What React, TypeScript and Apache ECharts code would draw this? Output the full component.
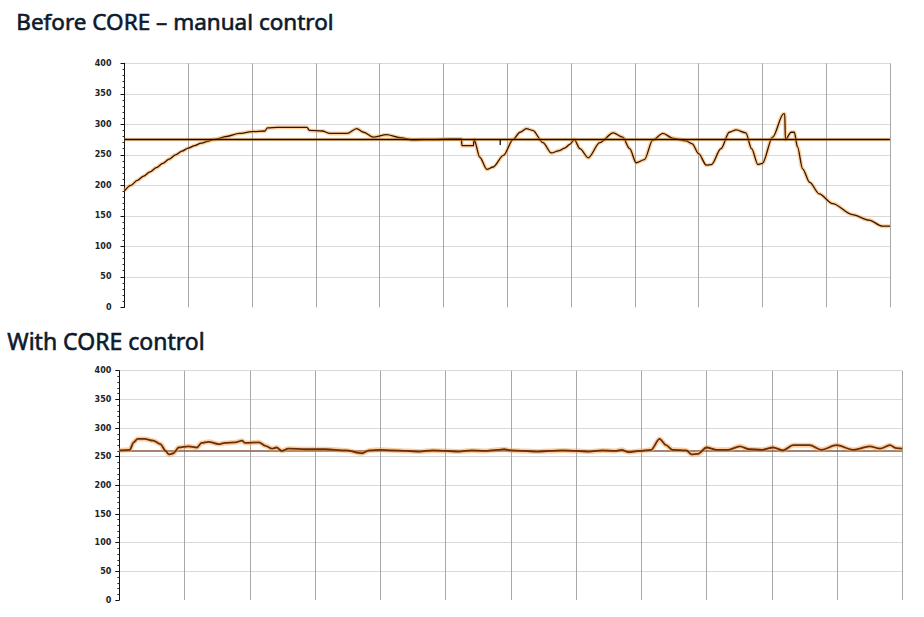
import { useEffect, useRef } from 'react'
import * as echarts from 'echarts'

// ── data (x = 0..120 across 12 grid cells) ──
const beforeCore: [number, number][] = [
  [0, 191], [1, 200], [2, 208], [3, 215], [4, 222], [5, 229], [6, 236], [7, 243],
  [8, 250], [9, 256], [10, 261], [11, 265], [12, 269], [13, 272], [14, 275], [16, 280],
  [18, 285], [20, 288], [22, 289], [22.4, 294], [24, 295], [26, 295], [28.6, 295],
  [29, 290], [31, 289], [32.2, 285], [34.9, 285], [36.4, 293], [37.5, 287], [39, 279],
  [41.1, 283], [43.2, 278], [45.3, 274], [47, 275], [48.9, 275], [51, 276], [52.8, 276],
  [52.9, 265], [54.7, 265], [54.8, 275], [55.7, 246], [56.8, 226], [57.8, 230],
  [59.4, 249], [60.9, 275], [62, 287], [63, 293], [64, 290], [65.6, 270], [66.9, 253],
  [68.2, 257], [69, 261], [69.8, 267], [70.5, 275], [71.4, 260], [72.7, 245], [74.5, 270],
  [76.6, 286], [78.1, 279], [79.2, 260], [80.2, 237], [81.5, 242], [82.8, 274], [84.4, 285],
  [86, 277], [88, 273], [89, 268], [90, 252], [91.2, 233], [92, 234], [93.5, 260],
  [94.8, 287], [95.9, 291], [97.4, 286], [98.3, 260], [99.3, 234], [100, 236],
  [101.6, 279], [103.3, 317], [103.5, 317], [103.6, 275], [104.5, 287], [105, 287],
  [105.5, 263], [106.3, 227], [107.4, 205], [108.9, 186], [111, 170], [114.1, 152],
  [116.7, 143], [118.8, 133], [120, 133],
]
const beforeGlitch: [number, number][] = [[58.9, 275], [58.9, 266]]
const beforeSetpoint = 275

const withCore: [number, number][] = [
  [0, 261], [1.6, 262], [2.2, 275], [2.8, 281], [3.9, 281], [5.2, 278], [6.3, 272],
  [7.1, 260], [7.6, 254], [8.3, 256], [9.1, 266], [10.6, 268], [11.9, 266], [12.6, 274],
  [13.7, 276], [15.2, 272], [16.2, 274], [17.8, 275], [18.8, 278], [19.3, 274], [21.4, 275],
  [22.4, 269], [23.4, 264], [24.1, 266], [24.9, 260], [25.9, 264], [28.5, 263], [31.6, 263],
  [34.7, 261], [37.2, 256], [38.3, 261], [40, 262], [42, 261], [44, 260], [46, 259],
  [48, 261], [50, 260], [52, 259], [54, 261], [56, 260], [58, 262], [59, 263], [60, 261],
  [62, 260], [64, 259], [66, 260], [68, 261], [70, 260], [72, 259], [74, 261], [76, 260],
  [77, 262], [78, 258], [79.7, 260], [81.5, 262], [82.8, 281], [83.8, 270], [84.8, 262],
  [86.9, 261], [87.7, 254], [88.7, 255], [90, 266], [91.5, 262], [93.3, 262], [95.1, 268],
  [96.6, 263], [98.5, 262], [100.2, 266], [101.7, 261], [103.3, 270], [105.8, 270],
  [107.6, 262], [109.9, 270], [112.5, 262], [115, 268], [116.6, 264], [118.1, 270],
  [119.1, 265], [120, 264],
]
const withSetpoint = 260

const titles = ['Before CORE – manual control', 'With CORE control']

function yAxisFor(gridIndex: number): any {
  return {
    gridIndex,
    type: 'value',
    min: 0,
    max: 400,
    interval: 50,
    offset: gridIndex === 0 ? 5 : 0,
    axisLine: { show: true, lineStyle: { color: '#111', width: 1 } },
    axisTick: { show: true, length: 4, lineStyle: { color: '#111' } },
    minorTick: { show: true, splitNumber: 5, length: 2, lineStyle: { color: '#333' } },
    axisLabel: {
      color: '#222',
      fontSize: 8,
      fontWeight: 'bold',
      fontFamily: 'DejaVu Sans',
      margin: 8,
    },
    splitLine: { showMinLine: false, lineStyle: { color: '#d9d9d9', width: 1 } },
  }
}

function xAxisFor(gridIndex: number): any {
  return {
    gridIndex,
    type: 'value',
    min: 0,
    max: 120,
    interval: 10,
    axisLine: { show: false },
    axisTick: { show: false },
    axisLabel: { show: false },
    splitLine: { show: true, lineStyle: { color: '#a8a8a8', width: 1 } },
  }
}

function glowLine(idx: number, data: [number, number][], core: string, coreW: number, glow: string, glowW: number): any[] {
  const base = {
    type: 'line', xAxisIndex: idx, yAxisIndex: idx, data, symbol: 'none', silent: true,
    smooth: 0.3, smoothMonotone: 'x',
  }
  return [
    { ...base, lineStyle: { color: glow, width: glowW, opacity: 0.5 } },
    { ...base, lineStyle: { color: core, width: coreW } },
  ]
}

export default function App() {
  const ref = useRef<HTMLDivElement>(null)

  useEffect(() => {
    if (!ref.current) return
    const chart = echarts.init(ref.current, undefined, { renderer: 'svg' })

    const titleStyle = {
      fontFamily: 'Noto Sans', fill: '#0c1a2c', stroke: '#0c1a2c', lineWidth: 0.6,
    }

    const option: echarts.EChartsOption = {
      animation: false,
      backgroundColor: '#fff',
      graphic: [
        { type: 'text', left: 16, top: 10, style: { ...titleStyle, fontSize: 22.5, text: titles[0] } },
        { type: 'text', left: 7, top: 329, style: { ...titleStyle, fontSize: 23, text: titles[1] } },
      ],
      grid: [
        { left: 124.5, top: 63.3, width: 765.5, height: 244 },
        { left: 119.3, top: 370.7, width: 783, height: 229.3 },
      ],
      xAxis: [xAxisFor(0), xAxisFor(1)],
      yAxis: [yAxisFor(0), yAxisFor(1)],
      series: [
        ...glowLine(0, beforeCore, '#3b1200', 1.3, '#f6a640', 4),
        ...glowLine(0, [[0, beforeSetpoint], [120, beforeSetpoint]], '#1a0800', 1.6, '#f0a030', 3.5),
        {
          type: 'line', xAxisIndex: 0, yAxisIndex: 0, data: beforeGlitch, symbol: 'none', silent: true,
          lineStyle: { color: '#1a0800', width: 1.3 },
        },
        {
          type: 'line', xAxisIndex: 1, yAxisIndex: 1, data: [[0, withSetpoint], [120, withSetpoint]],
          symbol: 'none', silent: true, lineStyle: { color: '#8c5a3c', width: 1.6 },
        },
        ...glowLine(1, withCore, '#6b2c0a', 1.8, '#f2a24a', 5),
      ],
    }

    chart.setOption(option)
    return () => chart.dispose()
  }, [])

  return (
    <div
      ref={ref}
      style={{ position: 'absolute', left: 0, top: 0, width: 924, height: 617 }}
    />
  )
}
